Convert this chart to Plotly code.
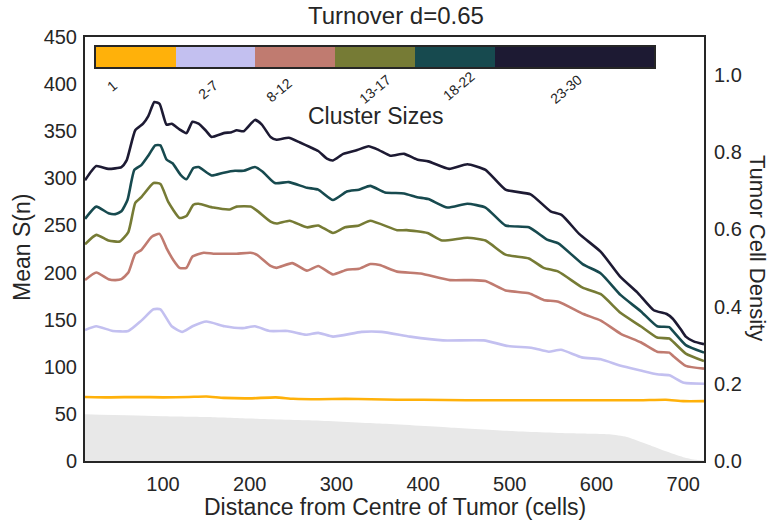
import plotly.graph_objects as go

# ---------------- data ----------------
dist_1 = [10, 40, 70, 100, 130, 150, 170, 200, 230, 250, 280, 310, 340, 370, 400, 450, 500, 550, 600, 650, 680, 700, 724]
s_1 = [68, 67.5, 68, 67.5, 68, 68.5, 67, 66.5, 67.5, 66, 65.5, 66, 65.5, 65, 65, 64.5, 64.5, 64.5, 64.5, 64.5, 65, 63.5, 63.5]

dist_2_7 = [10, 23, 42, 60, 75, 89, 97, 110, 122, 134, 150, 171, 192, 206, 223, 244, 265, 279, 296, 329, 352, 385, 423, 470, 498, 526, 545, 559, 583, 605, 628, 651, 670, 684, 701, 724]
s_2_7 = [139, 143, 138, 138, 149, 161, 161, 143, 137, 143, 148, 143, 141, 143, 138, 138, 134, 136, 132, 137, 137, 132, 128, 128, 122, 120, 116, 118, 110, 108, 101, 96, 92, 91, 83, 82]

dist_8_12 = [10, 23, 37, 45, 52, 60, 68, 75, 87, 96, 104, 112, 119, 127, 134, 147, 158, 177, 185, 201, 208, 224, 231, 249, 266, 279, 296, 312, 326, 339, 350, 370, 397, 431, 455, 472, 495, 522, 539, 556, 585, 605, 628, 651, 670, 684, 689, 703, 724]
s_8_12 = [192, 200, 193, 192, 193, 200, 220, 224, 238, 241, 226, 213, 205, 205, 217, 221, 220, 220, 220, 221, 219, 207, 205, 210, 202, 207, 198, 203, 204, 209, 208, 201, 199, 192, 192, 191, 181, 178, 171, 169, 156, 149, 135, 126, 116, 115, 111, 101, 98]

dist_13_17 = [10, 23, 37, 50, 60, 68, 75, 89, 97, 106, 119, 127, 135, 141, 158, 177, 185, 201, 208, 224, 231, 246, 266, 279, 296, 310, 326, 339, 370, 381, 405, 422, 451, 472, 495, 522, 539, 556, 584, 605, 628, 651, 670, 684, 689, 703, 724]
s_13_17 = [230, 240, 234, 233, 243, 274, 280, 295, 294, 275, 258, 260, 272, 273, 269, 267, 270, 270, 266, 254, 252, 255, 248, 250, 242, 248, 250, 255, 245, 245, 242, 234, 237, 234, 219, 215, 205, 201, 184, 177, 157, 143, 131, 130, 126, 114, 106]

dist_18_22 = [10, 23, 37, 45, 52, 59, 67, 75, 83, 91, 97, 104, 111, 120, 127, 135, 141, 156, 170, 183, 193, 206, 215, 229, 245, 266, 279, 296, 312, 326, 339, 356, 378, 393, 406, 428, 451, 472, 495, 522, 543, 556, 584, 605, 628, 651, 670, 684, 689, 703, 724]
s_18_22 = [257, 270, 263, 262, 265, 277, 309, 314, 324, 335, 335, 320, 316, 304, 299, 311, 312, 303, 306, 308, 308, 312, 307, 295, 296, 290, 288, 277, 286, 288, 292, 285, 284, 280, 278, 269, 273, 269, 250, 248, 235, 231, 209, 199, 176, 159, 143, 142, 137, 123, 115]

dist_23_30 = [10, 23, 37, 52, 58, 68, 77, 83, 90, 96, 104, 110, 119, 127, 134, 141, 149, 156, 170, 179, 185, 193, 206, 214, 224, 231, 245, 258, 270, 279, 289, 296, 308, 324, 337, 349, 362, 378, 393, 406, 430, 451, 472, 495, 524, 547, 560, 580, 605, 627, 647, 666, 681, 688, 697, 703, 712, 724]
s_23_30 = [298, 313, 310, 312, 319, 351, 358, 366, 381, 379, 357, 358, 352, 348, 360, 358, 351, 344, 348, 349, 351, 350, 362, 357, 344, 341, 343, 338, 333, 329, 321, 319, 326, 330, 334, 330, 324, 326, 320, 318, 310, 315, 309, 288, 283, 265, 261, 241, 222, 196, 179, 160, 156, 151, 140, 132, 127, 124]

dist_density = [10, 100, 150, 200, 275, 350, 430, 500, 570, 615, 635, 660, 680, 700, 715, 724]
density = [0.121, 0.116, 0.114, 0.110, 0.105, 0.097, 0.087, 0.078, 0.072, 0.069, 0.062, 0.042, 0.025, 0.010, 0.003, 0.001]

cluster_labels = ["1", "2-7", "8-12", "13-17", "18-22", "23-30"]
cluster_colors = ["#ffb10a", "#c3c0f0", "#c07b70", "#767b35", "#174a4f", "#1d1a33"]
cbar_widths = [1, 1, 1, 1, 1, 2]
cbar_label_pos = [0.2, 1.4, 2.3, 3.5, 4.55, 5.9]   # positions on the colour bar scale
cbar_label_y = [86, 90, 90, 89, 86, 89]            # label centres (px from top)

series = [
    (dist_1, s_1), (dist_2_7, s_2_7), (dist_8_12, s_8_12),
    (dist_13_17, s_13_17), (dist_18_22, s_18_22), (dist_23_30, s_23_30),
]

# ---------------- layout geometry ----------------
W, H = 772, 523
L, R, T, B = 85, 704, 37, 461
FONT = "Liberation Sans, Arial, sans-serif"
TXT = "#262626"


def px(xp):
    return (xp - L) / (R - L)


def py(yp):
    return (B - yp) / (B - T)


fig = go.Figure()

# density fill (right axis)
fig.add_trace(go.Scatter(
    x=dist_density, y=density, yaxis="y2", mode="lines",
    line=dict(width=0, color="#e8e8e8", shape="spline", smoothing=0.6),
    fill="tozeroy", fillcolor="#e8e8e8", hoverinfo="skip", showlegend=False))

for (xs, ys), col, lab in zip(series, cluster_colors, cluster_labels):
    fig.add_trace(go.Scatter(
        x=xs, y=ys, mode="lines", name=lab,
        line=dict(color=col, width=2.6, shape="spline", smoothing=0.5),
        showlegend=False))

# colour bar as stacked horizontal bars on an inset axis
bases = [sum(cbar_widths[:i]) for i in range(len(cbar_widths))]
fig.add_trace(go.Bar(
    x=cbar_widths, base=bases, y=[0] * len(cbar_widths), orientation="h",
    marker=dict(color=cluster_colors, line=dict(width=0)), width=1,
    xaxis="x3", yaxis="y3", showlegend=False, hoverinfo="skip"))

cb_x0, cb_x1, cb_y0, cb_y1 = 96, 654, 47, 67
total = sum(cbar_widths)


def ann(text, xp, yp, size, angle=0):
    return dict(text=text, x=px(xp), y=py(yp), xref="paper", yref="paper",
                xanchor="center", yanchor="middle", showarrow=False,
                textangle=angle, font=dict(size=size, color=TXT, family=FONT))


annotations = []
for lab, pos, yl in zip(cluster_labels, cbar_label_pos, cbar_label_y):
    xpix = cb_x0 + (cb_x1 - cb_x0) * pos / total
    annotations.append(ann(lab, xpix, yl, 14, -40))

annotations += [
    ann("Cluster Sizes", 375, 116, 23),
    ann("Turnover d=0.65", 396, 16, 24),
    ann("Distance from Centre of Tumor (cells)", 395, 507, 23),
    ann("Mean S(n)", 22, 248, 23, -90),
    ann("Tumor Cell Density", 758, 248, 22, 90),
]

axis_common = dict(showgrid=False, zeroline=False, ticks="",
                   tickfont=dict(size=20, color=TXT, family=FONT))

fig.update_layout(
    width=W, height=H,
    margin=dict(l=L, r=W - R, t=T, b=H - B, pad=0),
    paper_bgcolor="white", plot_bgcolor="white",
    font=dict(family=FONT, color=TXT),
    xaxis=dict(range=[10, 724], tickvals=[100, 200, 300, 400, 500, 600, 700],
               showline=True, mirror=True, linecolor=TXT, linewidth=2,
               ticklabelstandoff=4, **axis_common),
    yaxis=dict(range=[0, 450], tickvals=list(range(0, 451, 50)),
               showline=True, mirror=True, linecolor=TXT, linewidth=2,
               ticklabelstandoff=2, **axis_common),
    yaxis2=dict(range=[0, 1.0985], overlaying="y", side="right",
                tickvals=[0, 0.2, 0.4, 0.6, 0.8, 1.0], tickformat=".1f",
                showline=False, ticklabelstandoff=9, **axis_common),
    xaxis3=dict(domain=[px(cb_x0), px(cb_x1)], range=[0, total], anchor="y3",
                showticklabels=False, showgrid=False, zeroline=False,
                showline=True, mirror=True, linecolor=TXT, linewidth=2),
    yaxis3=dict(domain=[py(cb_y1), py(cb_y0)], range=[-0.5, 0.5], anchor="x3",
                showticklabels=False, showgrid=False, zeroline=False,
                showline=True, mirror=True, linecolor=TXT, linewidth=2),
    annotations=annotations,
    bargap=0,
)

fig.write_html("out.html")
